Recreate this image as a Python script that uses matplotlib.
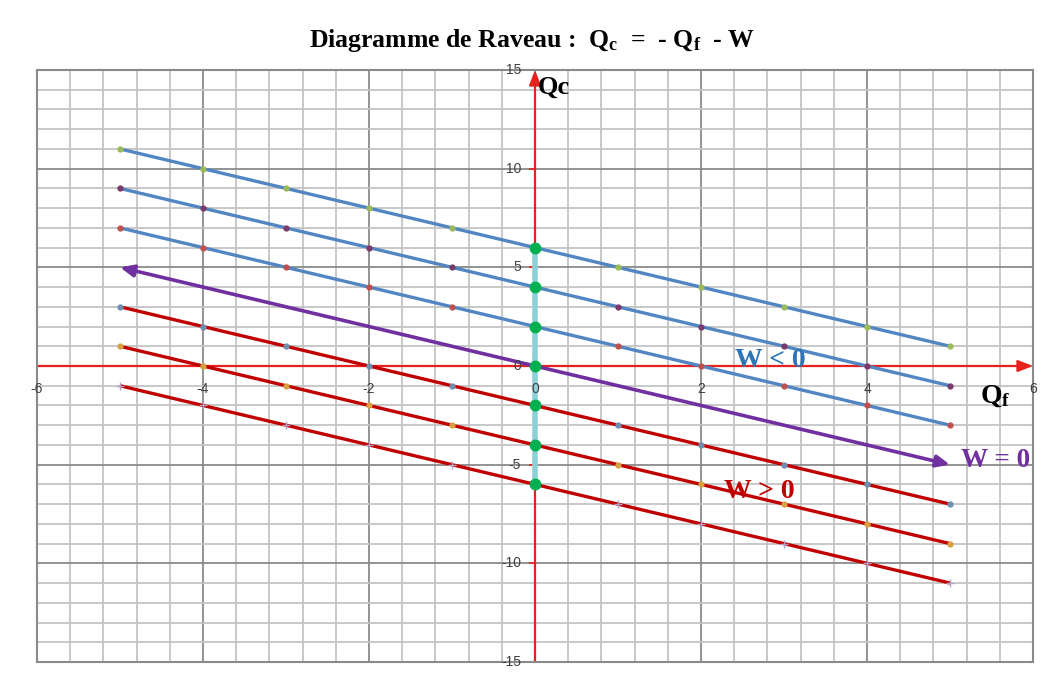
import numpy as np
import matplotlib.pyplot as plt
from matplotlib.ticker import MultipleLocator

plt.rcParams['mathtext.fontset'] = 'custom'
plt.rcParams['mathtext.rm'] = 'Liberation Serif:bold'
plt.rcParams['mathtext.it'] = 'Liberation Serif:bold'
plt.rcParams['mathtext.bf'] = 'Liberation Serif:bold'

# Qc = -Qf - W for a few work values
W_values = [-6, -4, -2, 0, 2, 4, 6]
Qf = [-5, -4, -3, -2, -1, 0, 1, 2, 3, 4, 5]
line_colors = ['#5286C2', '#5286C2', '#5286C2', '#7030A0', '#C00000', '#C00000', '#C00000']
marker_colors = ['#9BBB59', '#7A3A6A', '#C0504D', '#7030A0', '#6F8FB0', '#D8A040', '#B3A2C7']
marker_styles = ['o', 'o', 'o', 'o', 'o', 'o', '+']

# points on the Qc axis (Qf = 0)
axis_Qc = [6, 4, 2, 0, -2, -4, -6]

x_ticks = [-6, -4, -2, 0, 2, 4, 6]
y_ticks = [15, 10, 5, 0, -5, -10, -15]

fig = plt.figure(figsize=(10.48, 6.91), dpi=100)
ax = fig.add_axes([37 / 1048, 1 - 662 / 691, 996 / 1048, 592 / 691])
ax.set_xlim(-6, 6)
ax.set_ylim(-15, 15)

ax.xaxis.set_major_locator(MultipleLocator(2))
ax.xaxis.set_minor_locator(MultipleLocator(0.4))
ax.yaxis.set_major_locator(MultipleLocator(5))
ax.yaxis.set_minor_locator(MultipleLocator(1))
ax.grid(which='minor', color='#C4C4C4', lw=1.3, zorder=0)
ax.grid(which='major', color='#8A8A8A', lw=1.3, zorder=0)
ax.tick_params(which='both', length=0, labelbottom=False, labelleft=False)
for sp in ax.spines.values():
    sp.set_color('#8A8A8A')
    sp.set_linewidth(1.5)
ax.set_axisbelow(True)

# red axes with arrow heads
arrow_red = dict(arrowstyle='-|>,head_length=0.9,head_width=0.35', color='#E8201E', lw=1.6,
                 shrinkA=0, shrinkB=0)
ax.annotate('', xy=(6, 0), xytext=(-6, 0), arrowprops=arrow_red, zorder=2)
ax.annotate('', xy=(0, 15), xytext=(0, -15), arrowprops=arrow_red, zorder=2)
ax.plot([0] * len(y_ticks), y_ticks, ls='none', marker=0, ms=4, mew=1.2,
        color='#E8201E', zorder=2, clip_on=False)

# tick labels sitting on the axes
for v in x_ticks:
    ax.text(v, -1.15, str(v), ha='center', va='center', fontsize=10, color='#404040',
            family='Liberation Sans', zorder=8)
for v in y_ticks:
    ax.text(-0.17, v, str(v), ha='right', va='center', fontsize=10, color='#404040',
            family='Liberation Sans', zorder=8)

# the family of straight lines
Qf_arr = np.array(Qf)
for W, lc, mc, ms in zip(W_values, line_colors, marker_colors, marker_styles):
    Qc = -Qf_arr - W
    if W == 0:
        ax.annotate('', xy=(Qf[-1], Qc[-1]), xytext=(Qf[0], Qc[0]),
                    arrowprops=dict(arrowstyle='<|-|>,head_length=0.8,head_width=0.35',
                                    color=lc, lw=2.6, shrinkA=0, shrinkB=0), zorder=3)
    else:
        ax.plot(Qf_arr, Qc, color=lc, lw=2.4, zorder=3, solid_capstyle='butt')
        ax.plot(Qf_arr, Qc, ls='none', marker=ms, ms=3.5 if ms == 'o' else 6,
                color=mc, mew=1, zorder=4)

# segment of intercepts on the Qc axis
ax.plot([0, 0], [min(axis_Qc), max(axis_Qc)], color='#8FCFD8', lw=4, zorder=5,
        solid_capstyle='butt')
ax.plot([0] * len(axis_Qc), axis_Qc, ls='none', marker='o', ms=7.5, color='#00B050', zorder=6)

serif = 'Liberation Serif'
ax.text(0.03, 14.1, 'Qc', fontsize=19, fontweight='bold', family=serif,
        ha='left', va='center', zorder=7)
ax.text(5.55, -1.45, r'$\mathrm{Q_f}$', fontsize=20, ha='center', va='center', zorder=7)
ax.text(2.84, 0.3, 'W < 0', fontsize=20, fontweight='bold', family=serif,
        color='#2E75B6', ha='center', va='center', zorder=7)
ax.text(5.55, -4.8, 'W = 0', fontsize=19.5, fontweight='bold', family=serif,
        color='#7030A0', ha='center', va='center', zorder=7)
ax.text(2.7, -6.35, 'W > 0', fontsize=20, fontweight='bold', family=serif,
        color='#C00000', ha='center', va='center', zorder=7)

fig.text(0.508, 1 - 41 / 691,
         r'Diagramme de Raveau :  $\mathrm{Q_c}$  =  - $\mathrm{Q_f}$  - W',
         fontsize=18.5, fontweight='bold', family=serif, ha='center', va='center')

fig.savefig('out.png', dpi=100)
